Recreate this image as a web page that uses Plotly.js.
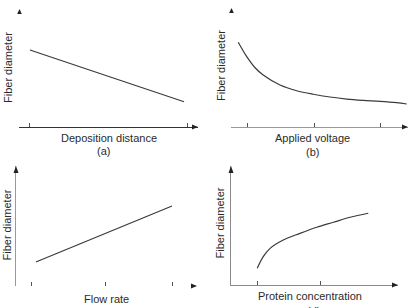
<!DOCTYPE html>
<html>
<head>
<meta charset="utf-8">
<script src="https://cdn.plot.ly/plotly-3.0.1.min.js"></script>
<style>
  html, body { margin: 0; padding: 0; background: #fff; }
  #chart { width: 409px; height: 308px; }
</style>
</head>
<body>
<div id="chart"></div>
<script>
// Schematic trends of fibre diameter vs. four electrospinning parameters.
// All values are in arbitrary units on a 0-10 scale.

// (a) deposition distance
const distX = [0.61, 9.22];
const distDiam = [6.53, 2.14];
const distTicks = [0.61, 9.44];

// (b) applied voltage
const voltX = [0.41, 0.89, 1.36, 1.82, 2.77, 3.71, 4.65, 5.59, 6.54, 7.47, 8.42, 9.36, 9.93];
const voltDiam = [7.12, 5.91, 4.98, 4.37, 3.53, 3.05, 2.75, 2.52, 2.35, 2.24, 2.16, 2.04, 1.93];
const voltTicks = [0.96, 4.69, 8.42];

// (c) flow rate
const flowX = [1.10, 8.62];
const flowDiam = [2.0, 6.67];
const flowTicks = [0.83, 4.97, 8.67];

// (d) protein concentration
const protX = [1.57, 1.93, 2.34, 3.13, 4.13, 5.13, 6.13, 7.13, 8.22];
const protDiam = [1.40, 2.38, 3.08, 3.78, 4.34, 4.85, 5.27, 5.69, 6.03];
const protTicks = [1.56, 5.33];

const xTitles = ['Deposition distance', 'Applied voltage', 'Flow rate', 'Protein concentration'];
const yTitle = 'Fiber diameter';
const panelTags = ['(a)', '(b)', '(c)', '(d)'];

const W = 409, H = 308;
const fx = p => p / W;
const fy = p => 1 - p / H;
const FONT = 'Liberation Sans, Arial, sans-serif';
const TXT = '#2b2b2b';

// panel frames in pixels: x-axis left/right, y-axis bottom/top
const frames = [
  { l: 19,  r: 198, b: 127, t: 9,   xLine: true,  yLine: false, xCol: '#333', yCol: '#999' },
  { l: 231, r: 408, b: 127, t: 8,   xLine: true,  yLine: false, xCol: '#999', yCol: '#999' },
  { l: 16,  r: 197, b: 286, t: 166, xLine: false, yLine: true,  xCol: '#999', yCol: '#999' },
  { l: 231, r: 398, b: 285, t: 166, xLine: true,  yLine: true,  xCol: '#8a8a8a', yCol: '#8a8a8a' }
];
const tickSets = [distTicks, voltTicks, flowTicks, protTicks];

const series = [
  { x: distX, y: distDiam, shape: 'linear', color: '#3a3a3a' },
  { x: voltX, y: voltDiam, shape: 'spline', color: '#3a3a3a' },
  { x: flowX, y: flowDiam, shape: 'linear', color: '#3a3a3a' },
  { x: protX, y: protDiam, shape: 'spline', color: '#3a3a3a' }
];

const traces = series.map((s, i) => ({
  type: 'scatter', mode: 'lines',
  x: s.x, y: s.y,
  xaxis: i === 0 ? 'x' : 'x' + (i + 1),
  yaxis: i === 0 ? 'y' : 'y' + (i + 1),
  line: { color: s.color, width: 1.2, shape: s.shape },
  hoverinfo: 'skip', showlegend: false
}));

const layout = {
  width: W, height: H,
  margin: { l: 0, r: 0, t: 0, b: 0 },
  paper_bgcolor: '#fff', plot_bgcolor: 'rgba(0,0,0,0)',
  showlegend: false,
  shapes: [], annotations: []
};

frames.forEach((f, i) => {
  const n = i === 0 ? '' : String(i + 1);
  layout['xaxis' + n] = {
    domain: [fx(f.l), fx(f.r)], range: [0, 10], anchor: 'y' + n,
    showgrid: false, zeroline: false, showticklabels: false,
    showline: f.xLine, linecolor: f.xCol, linewidth: 1,
    ticks: 'inside', ticklen: 4, tickwidth: 1, tickcolor: '#555',
    tickmode: 'array', tickvals: tickSets[i], fixedrange: true
  };
  layout['yaxis' + n] = {
    domain: [fy(f.b), fy(f.t)], range: [0, 10], anchor: 'x' + n,
    showgrid: false, zeroline: false, showticklabels: false,
    showline: f.yLine, linecolor: f.yCol, linewidth: 1,
    ticks: '', fixedrange: true
  };
  const big = f.yLine;
  // arrowhead at the end of the x axis (paper-anchored so it is not clipped)
  layout.shapes.push({
    type: 'path', xref: 'paper', yref: 'paper', xsizemode: 'pixel', ysizemode: 'pixel',
    xanchor: fx(f.r), yanchor: fy(f.b), path: 'M0,0 L-6,2.5 L-6,-2.5 Z',
    fillcolor: '#222', line: { width: 0 }
  });
  // arrowhead at the top of the y axis
  layout.shapes.push({
    type: 'path', xref: 'paper', yref: 'paper', xsizemode: 'pixel', ysizemode: 'pixel',
    xanchor: fx(f.l), yanchor: fy(f.t),
    path: big ? 'M0,0 L-2.5,-7 L2.5,-7 Z' : 'M0.5,0 L-1.8,-5 L2.8,-5 Z',
    fillcolor: '#222', line: { width: 0 }
  });
});

// axis titles and panel tags
const xTitlePos = [[109, 138], [312.5, 137.5], [106.5, 298.5], [309.5, 296]];
const yTitlePos = [[8, 68], [221, 66], [6.5, 225], [219.5, 223]];
const tagPos = [[103, 151], [312, 152], [106, 312], [313, 311]];

xTitles.forEach((t, i) => {
  layout.annotations.push({
    text: t, xref: 'paper', yref: 'paper',
    x: fx(xTitlePos[i][0]), y: fy(xTitlePos[i][1]),
    xanchor: 'center', yanchor: 'middle', showarrow: false,
    font: { family: FONT, size: 11, color: TXT }
  });
  layout.annotations.push({
    text: yTitle, xref: 'paper', yref: 'paper', textangle: -90,
    x: fx(yTitlePos[i][0]), y: fy(yTitlePos[i][1]),
    xanchor: 'center', yanchor: 'middle', showarrow: false,
    font: { family: FONT, size: 11, color: TXT }
  });
  layout.annotations.push({
    text: panelTags[i], xref: 'paper', yref: 'paper',
    x: fx(tagPos[i][0]), y: fy(tagPos[i][1]),
    xanchor: 'center', yanchor: 'middle', showarrow: false,
    font: { family: FONT, size: 11, color: TXT }
  });
});

Plotly.newPlot('chart', traces, layout, { staticPlot: true, displayModeBar: false });
</script>
</body>
</html>
